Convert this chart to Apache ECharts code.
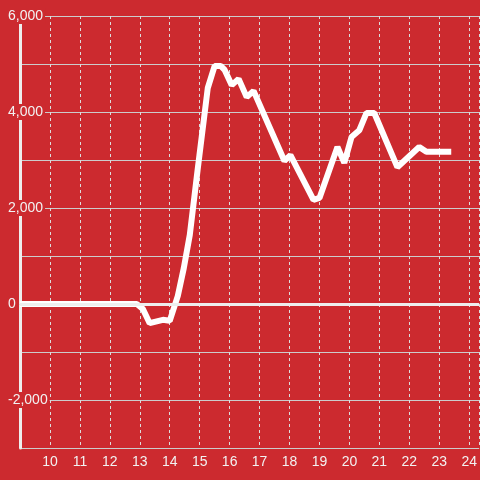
<!DOCTYPE html>
<html>
<head>
<meta charset="utf-8">
<script src="https://cdn.jsdelivr.net/npm/echarts@6/dist/echarts.min.js"></script>
<style>html,body{margin:0;padding:0;background:#cc2a2f;}#c{width:480px;height:480px;}</style>
</head>
<body>
<div id="c"></div>
<script>
// time (hours) and values
const times = [9, 12.9, 13.1, 13.33, 13.77, 14.0, 14.27, 14.47, 14.67, 14.93, 15.27, 15.5, 15.7, 15.83, 16.07, 16.3, 16.57, 16.8, 17.83, 18.03, 18.8, 19.0, 19.6, 19.83, 20.07, 20.33, 20.57, 20.83, 21.6, 22.33, 22.57, 23.4];
const values = [0, 0, -100, -400, -330, -350, 170, 750, 1440, 2790, 4500, 4960, 4960, 4880, 4560, 4690, 4310, 4440, 2980, 3100, 2170, 2210, 3270, 2940, 3480, 3620, 3980, 3980, 2850, 3270, 3170, 3170];
const yMin = -3000, yMax = 6000, yStep = 1000, yLabelStep = 2000;
const xMin = 9, xMax = 24.3333, xStep = 1;

const BG = '#cc2a2f';
const chart = echarts.init(document.getElementById('c'));
chart.setOption({
  backgroundColor: BG,
  animation: false,
  grid: {left: 20, right: 0, top: 16, bottom: 32},
  xAxis: {
    type: 'value', min: xMin, max: xMax, interval: xStep,
    axisLine: {show: true, lineStyle: {color: '#cccccc', width: 1}},
    axisTick: {show: false},
    axisLabel: {color: '#f2f2f2', fontSize: 14, fontFamily: 'Liberation Sans, Arial, sans-serif', margin: 7, showMinLabel: false, showMaxLabel: false},
    splitLine: {show: true, lineStyle: {color: '#dddddd', width: 1, type: [3, 3]}}
  },
  yAxis: {
    type: 'value', min: yMin, max: yMax, interval: yStep,
    axisLine: {show: true, lineStyle: {color: '#eeeeee', width: 3}},
    axisTick: {show: false},
    axisLabel: {
      align: 'left', margin: 14,
      formatter: v => (v % yLabelStep === 0) ? '{a|' + v.toLocaleString('en-US') + '}' : '',
      rich: {a: {color: '#f2f2f2', fontSize: 14, fontFamily: 'Liberation Sans, Arial, sans-serif', backgroundColor: BG, padding: [1, 2, 1, 2]}}
    },
    splitLine: {show: true, lineStyle: {color: '#cccccc', width: 1}}
  },
  series: [{
    type: 'line',
    data: times.map((t, i) => [t, values[i]]),
    showSymbol: false,
    symbol: 'none',
    lineStyle: {color: '#ffffff', width: 6},
    markLine: {
      silent: true, symbol: 'none', label: {show: false},
      lineStyle: {color: '#eeeeee', width: 3, type: 'solid'},
      data: [{yAxis: 0}]
    }
  }]
});
</script>
</body>
</html>
